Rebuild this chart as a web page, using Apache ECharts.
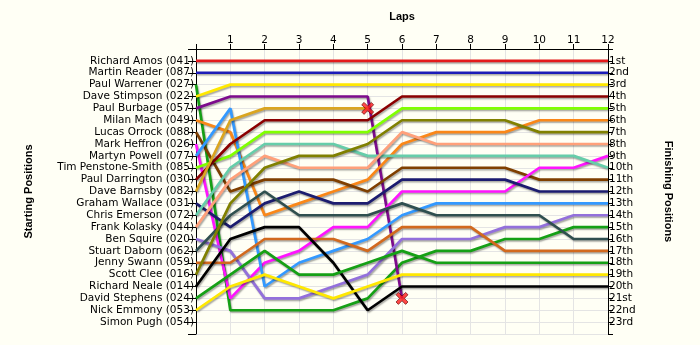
<!DOCTYPE html>
<html>
<head>
<meta charset="utf-8">
<script src="https://cdn.jsdelivr.net/npm/echarts@6/dist/echarts.min.js"></script>
<style>
html,body{margin:0;padding:0;background:#FFFFF5;}
#c{width:700px;height:345px;}
</style>
</head>
<body>
<div id="c"></div>
<script>
// Lap numbers
var laps = [0,1,2,3,4,5,6,7,8,9,10,11,12];
// Starting-grid labels (left axis) and finishing labels (right axis)
var starters = ["Richard Amos (041)","Martin Reader (087)","Paul Warrener (027)","Dave Stimpson (022)","Paul Burbage (057)","Milan Mach (049)","Lucas Orrock (088)","Mark Heffron (026)","Martyn Powell (077)","Tim Penstone-Smith (085)","Paul Darrington (030)","Dave Barnsby (082)","Graham Wallace (031)","Chris Emerson (072)","Frank Kolasky (044)","Ben Squire (020)","Stuart Daborn (062)","Jenny Swann (059)","Scott Clee (016)","Richard Neale (014)","David Stephens (024)","Nick Emmony (053)","Simon Pugh (054)"];
var finishing = ["1st","2nd","3rd","4th","5th","6th","7th","8th","9th","10th","11th","12th","13th","14th","15th","16th","17th","18th","19th","20th","21st","22nd","23rd"];

// Position of each driver at each lap (lap 0 = grid)
var amos       = [1,1,1,1,1,1,1,1,1,1,1,1,1];
var reader     = [2,2,2,2,2,2,2,2,2,2,2,2,2];
var warrener   = [3,22,22,22,22,21,18,17,17,16,16,15,15];
var stimpson   = [4,3,3,3,3,3,3,3,3,3,3,3,3];
var burbage    = [5,4,4,4,4,4,21];
var mach       = [6,7,14,13,12,11,8,7,7,7,6,6,6];
var orrock     = [7,12,11,11,11,12,10,10,10,10,11,11,11];
var heffron    = [8,21,18,17,15,15,12,12,12,12,10,10,9];
var powell     = [9,5,20,18,17,16,14,13,13,13,13,13,13];
var penstone   = [10,9,7,7,7,7,5,5,5,5,5,5,5];
var darrington = [11,8,6,6,6,6,4,4,4,4,4,4,4];
var barnsby    = [12,6,5,5,5,5];
var wallace    = [13,15,13,12,13,13,11,11,11,11,12,12,12];
var emerson    = [14,10,8,8,8,9,9,9,9,9,9,9,10];
var kolasky    = [15,11,9,10,10,10,7,8,8,8,8,8,8];
var squire     = [16,17,21,21,20,19,16,16,16,15,15,14,14];
var daborn     = [17,14,12,14,14,14,13,14,14,14,14,16,16];
var swann      = [18,18,16,16,16,17,15,15,15,17,17,17,17];
var clee       = [19,13,10,9,9,8,6,6,6,6,7,7,7];
var neale      = [20,16,15,15,18,22,20,20,20,20,20,20,20];
var stephens   = [21,19,17,19,19,18,17,18,18,18,18,18,18];
var emmony     = [22,20,19,20,21,20,19,19,19,19,19,19,19];
// Drivers who retired (marker at last recorded lap)
var retired = ["Paul Burbage (057)","Dave Barnsby (082)"];

var drivers = [
  {name:starters[0],  d:amos,       c:'#E41A1C'},
  {name:starters[1],  d:reader,     c:'#1C1CB8'},
  {name:starters[2],  d:warrener,   c:'#15A015'},
  {name:starters[3],  d:stimpson,   c:'#FFE800'},
  {name:starters[4],  d:burbage,    c:'#7D0B8C'},
  {name:starters[5],  d:mach,       c:'#FA8718'},
  {name:starters[6],  d:orrock,     c:'#7F3F00'},
  {name:starters[7],  d:heffron,    c:'#FF14FF'},
  {name:starters[8],  d:powell,     c:'#3399FF'},
  {name:starters[9],  d:penstone,   c:'#80FF00'},
  {name:starters[10], d:darrington, c:'#8B0000'},
  {name:starters[11], d:barnsby,    c:'#DAA520'},
  {name:starters[12], d:wallace,    c:'#1C1C70'},
  {name:starters[13], d:emerson,    c:'#66CDAA'},
  {name:starters[14], d:kolasky,    c:'#FFA07A'},
  {name:starters[15], d:squire,     c:'#9370DB'},
  {name:starters[16], d:daborn,     c:'#2F4F4F'},
  {name:starters[17], d:swann,      c:'#D2691E'},
  {name:starters[18], d:clee,       c:'#808000'},
  {name:starters[19], d:neale,      c:'#000000'},
  {name:starters[20], d:stephens,   c:'#15A015'},
  {name:starters[21], d:emmony,     c:'#FFE800'}
];

var series = [];
var marks = [];
drivers.forEach(function(dr){
  series.push({
    type:'line', name:dr.name, symbol:'none',
    data: dr.d.map(function(p,i){return [laps[i],p];}),
    lineStyle:{color:dr.c,width:2.7,shadowColor:'rgba(0,0,0,0.35)',shadowBlur:1.5,shadowOffsetX:1,shadowOffsetY:1.5},
    itemStyle:{color:dr.c}
  });
  if (retired.indexOf(dr.name) >= 0) {
    var n = dr.d.length-1;
    marks.push([laps[n], dr.d[n]]);
  }
});
series.push({
  type:'scatter', z:10, data:marks,
  symbol:'path://M2,0 L5,3 L8,0 L10,2 L7,5 L10,8 L8,10 L5,7 L2,10 L0,8 L3,5 L0,2 Z',
  symbolSize:12,
  itemStyle:{color:'#FF1A1A',borderColor:'#5A0000',borderWidth:0.8}
});

var font = 'DejaVu Sans, Verdana, sans-serif';
var bfont = 'Liberation Sans, Arial, sans-serif';
var chart = echarts.init(document.getElementById('c'), null, {renderer:'canvas'});
chart.setOption({
  backgroundColor:'#FFFFF5',
  animation:false,
  grid:{left:196,right:92,top:49,bottom:11,show:false},
  xAxis:{
    type:'value', position:'top', min:0, max:12, interval:1,
    name:'Laps', nameLocation:'middle', nameGap:27,
    nameTextStyle:{fontFamily:bfont,fontWeight:'bold',fontSize:11,color:'#000'},
    axisLine:{show:true,lineStyle:{color:'#000',width:1}},
    axisTick:{show:true,length:5,lineStyle:{color:'#000'}},
    axisLabel:{fontFamily:font,fontSize:10.5,color:'#000',margin:3,
      formatter:function(v){return v===0?'':String(v);}},
    splitLine:{show:true,lineStyle:{color:'#E4E4E4',width:1}}
  },
  yAxis:[{
    type:'value', position:'left', min:0, max:24, interval:1, inverse:true,
    name:'Starting Positions', nameLocation:'middle', nameGap:162, nameRotate:90,
    nameTextStyle:{fontFamily:bfont,fontWeight:'bold',fontSize:11,color:'#000'},
    axisLine:{show:true,onZero:false,lineStyle:{color:'#000',width:1}},
    axisTick:{show:true,length:8,lineStyle:{color:'#000'}},
    axisLabel:{fontFamily:font,fontSize:10.5,color:'#000',margin:2,
      formatter:function(v){return starters[v-1]||'';}},
    splitLine:{show:true,lineStyle:{color:'#E4E4E4',width:1}}
  },{
    type:'value', position:'right', min:0, max:24, interval:1, inverse:true,
    name:'Finishing Positions', nameLocation:'middle', nameGap:55, nameRotate:-90,
    nameTextStyle:{fontFamily:bfont,fontWeight:'bold',fontSize:11,color:'#000'},
    axisLine:{show:true,onZero:false,lineStyle:{color:'#000',width:1}},
    axisTick:{show:true,length:5,lineStyle:{color:'#000'}},
    axisLabel:{fontFamily:font,fontSize:10.5,color:'#000',margin:1,
      formatter:function(v){return finishing[v-1]||'';}},
    splitLine:{show:false}
  }],
  series:series
});
</script>
</body>
</html>
